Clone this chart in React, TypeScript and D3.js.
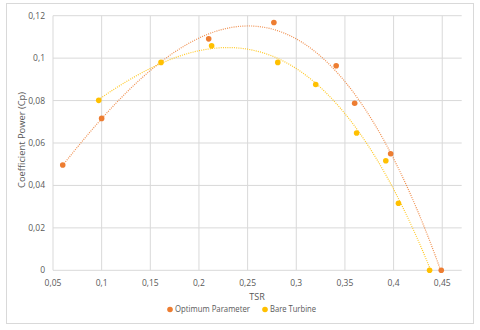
import React from "react";
import * as d3 from "d3";

const optX = [0.06, 0.1, 0.21, 0.277, 0.341, 0.36, 0.397, 0.449];
const optY = [0.0496, 0.0716, 0.1091, 0.1168, 0.0964, 0.0787, 0.0549, 0.0];
const bareX = [0.097, 0.161, 0.213, 0.281, 0.32, 0.362, 0.392, 0.405, 0.437];
const bareY = [0.0801, 0.098, 0.1058, 0.098, 0.0876, 0.0647, 0.0516, 0.0316, 0.0];
const xTicks = [0.05, 0.1, 0.15, 0.2, 0.25, 0.3, 0.35, 0.4, 0.45];
const yTicks = [0, 0.02, 0.04, 0.06, 0.08, 0.1, 0.12];
const seriesNames = ["Optimum Parameter", "Bare Turbine"];
const colors = ["#ED7D31", "#FFC000"];
const trendOrder = 3;

function polyFit(xs: number[], ys: number[], n: number) {
  const m = n + 1;
  const M: number[][] = [];
  for (let r = 0; r < m; r++) {
    const row: number[] = [];
    for (let c = 0; c < m; c++) row.push(d3.sum(xs, (x) => Math.pow(x, r + c)));
    row.push(d3.sum(xs, (x, i) => ys[i] * Math.pow(x, r)));
    M.push(row);
  }
  for (let i = 0; i < m; i++) {
    let p = i;
    for (let r = i + 1; r < m; r++) if (Math.abs(M[r][i]) > Math.abs(M[p][i])) p = r;
    [M[i], M[p]] = [M[p], M[i]];
    for (let r = 0; r < m; r++) {
      if (r === i) continue;
      const f = M[r][i] / M[i][i];
      for (let c = i; c <= m; c++) M[r][c] -= f * M[i][c];
    }
  }
  const coef = M.map((row, i) => row[m] / row[i]);
  return (x: number) => coef.reduce((s, c, k) => s + c * Math.pow(x, k), 0);
}

export default function App() {
  const W = 480, H = 330;
  const left = 53, right = 461.7, top = 15.7, bottom = 270.3;
  const x = d3.scaleLinear().domain([0.05, 0.47]).range([left, right]);
  const y = d3.scaleLinear().domain([0, 0.12]).range([bottom, top]);
  const font = "'Open Sans', 'Noto Sans', sans-serif";
  const series = [
    { xs: optX, ys: optY },
    { xs: bareX, ys: bareY },
  ];
  const line = d3
    .line<[number, number]>()
    .x((d) => x(d[0]))
    .y((d) => y(d[1]));
  const trend = (xs: number[], ys: number[]) => {
    const f = polyFit(xs, ys, trendOrder);
    const x0 = d3.min(xs)!, x1 = d3.max(xs)!;
    const pts: [number, number][] = d3.range(0, 101).map((i) => {
      const xv = x0 + ((x1 - x0) * i) / 100;
      return [xv, f(xv)];
    });
    return line(pts) || "";
  };
  const fmt = (v: number) => String(+v.toFixed(2)).replace(".", ",");

  return (
    <svg width={W} height={H} style={{ position: "absolute", left: 0, top: 0 }}>
      <rect x={0} y={0} width={W} height={H} fill="#fff" />
      <rect x={6.5} y={3.5} width={467} height={320} fill="#fff" stroke="#d9d9d9" strokeWidth={1} />
      {xTicks.map((t) => (
        <line key={"gx" + t} x1={x(t)} x2={x(t)} y1={top} y2={bottom} stroke="#d9d9d9" strokeWidth={1} />
      ))}
      {yTicks.map((t) => (
        <line key={"gy" + t} x1={left} x2={right} y1={y(t)} y2={y(t)} stroke="#d9d9d9" strokeWidth={1} />
      ))}
      {yTicks.map((t) => (
        <text key={"ly" + t} x={45} y={y(t)} dy="0.35em" textAnchor="end" fontSize={8.5} fill="#595959" fontFamily={font}>
          {fmt(t)}
        </text>
      ))}
      {xTicks.map((t) => (
        <text key={"lx" + t} x={x(t)} y={283.5} dy="0.35em" textAnchor="middle" fontSize={8.5} fill="#595959" fontFamily={font}>
          {fmt(t)}
        </text>
      ))}
      <text x={257} y={297} dy="0.35em" textAnchor="middle" fontSize={9} fill="#595959" fontFamily={font}>
        TSR
      </text>
      <text
        transform={`translate(21.5,140) rotate(-90)`}
        dy="0.35em"
        textAnchor="middle"
        fontSize={9}
        fill="#595959"
        fontFamily={font}
        textLength={96}
        lengthAdjust="spacingAndGlyphs"
      >
        Coefficient Power (Cp)
      </text>
      {series.map((s, i) => (
        <path
          key={"t" + i}
          d={trend(s.xs, s.ys)}
          fill="none"
          stroke={colors[i]}
          strokeWidth={1.2}
          strokeDasharray="1 1.2"
          opacity={0.85}
        />
      ))}
      {series.map((s, i) =>
        s.xs.map((xv, j) => (
          <circle key={"p" + i + "-" + j} cx={x(xv)} cy={y(s.ys[j])} r={2.8} fill={colors[i]} />
        ))
      )}
      <circle cx={170} cy={309.5} r={2.8} fill={colors[0]} />
      <text x={175} y={309.5} dy="0.35em" fontSize={8.5} fill="#595959" fontFamily={font} textLength={75} lengthAdjust="spacingAndGlyphs">
        {seriesNames[0]}
      </text>
      <circle cx={265} cy={309.5} r={2.8} fill={colors[1]} />
      <text x={270} y={309.5} dy="0.35em" fontSize={8.5} fill="#595959" fontFamily={font} textLength={46} lengthAdjust="spacingAndGlyphs">
        {seriesNames[1]}
      </text>
    </svg>
  );
}
